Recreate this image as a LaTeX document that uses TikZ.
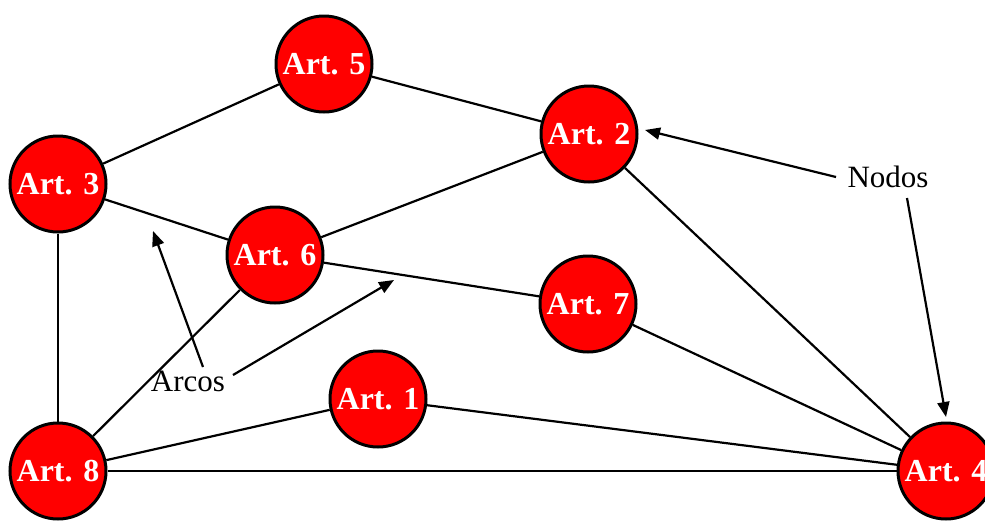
\documentclass[tikz,border=0pt]{standalone}
\usepackage{fontspec}
\setmainfont{Liberation Serif}
\usetikzlibrary{arrows.meta}
\begin{document}
\begin{tikzpicture}[x=1pt,y=-1pt,
  art/.style={circle,draw=black,line width=3pt,fill=red,minimum size=96pt,inner sep=0pt,
    text=white,font=\fontsize{32}{38}\selectfont\bfseries},
  arc/.style={line width=2.2pt,draw=black},
  lbl/.style={font=\fontsize{31}{37}\selectfont,inner sep=6pt},
  ptr/.style={line width=2.2pt,-{Triangle[length=15pt,width=12pt]}}]
\useasboundingbox (0,0) rectangle (985,520);
\clip (0,0) rectangle (985,520);
% nodes
\node[art] (a5) at (324,64) {Art. 5};
\node[art] (a2) at (589,134) {Art. 2};
\node[art] (a3) at (58,184) {Art. 3};
\node[art] (a6) at (275,255) {Art. 6};
\node[art] (a7) at (588,304) {Art. 7};
\node[art] (a1) at (378,399) {Art. 1};
\node[art] (a8) at (58,471) {Art. 8};
\node[art] (a4) at (946,471) {Art. 4};
% edges
\draw[arc] (a3) -- (a5);
\draw[arc] (a5) -- (a2);
\draw[arc] (a3) -- (a6);
\draw[arc] (a6) -- (a2);
\draw[arc] (a6) -- (a7);
\draw[arc] (a3) -- (a8);
\draw[arc] (a8) -- (a6);
\draw[arc] (a8) -- (a1);
\draw[arc] (a8) -- (a4);
\draw[arc] (a1) -- (a4);
\draw[arc] (a7) -- (a4);
\draw[arc] (a2) -- (a4);
% labels and pointers
\node[lbl] (nodos) at (888,177) {Nodos};
\node[lbl] (arcos) at (188,381) {Arcos};
\coordinate (tipN1) at (645,130);
\coordinate (tipN2) at (946,417);
\coordinate (tipA1) at (153,231);
\coordinate (tipA2) at (394,280);
\coordinate (srcN1) at (836,177);
\coordinate (srcN2) at (907,198);
\coordinate (srcA1) at (203,367);
\coordinate (srcA2) at (233,375);
\draw[ptr] (srcN1) -- (tipN1);
\draw[ptr] (srcN2) -- (tipN2);
\draw[ptr] (srcA1) -- (tipA1);
\draw[ptr] (srcA2) -- (tipA2);
\end{tikzpicture}
\end{document}
